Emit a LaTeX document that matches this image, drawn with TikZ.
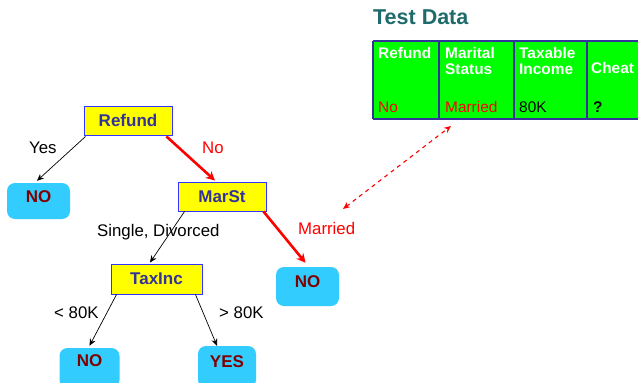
\documentclass[tikz,border=0pt]{standalone}
\usepackage{fontspec}
\setmainfont{Liberation Sans}
\usetikzlibrary{calc,arrows.meta}
\definecolor{boxyellow}{HTML}{FFFF00}
\definecolor{boxborder}{HTML}{3333FF}
\definecolor{boxtext}{HTML}{333399}
\definecolor{leafblue}{HTML}{33CCFF}
\definecolor{leaftext}{HTML}{800000}
\definecolor{tablegreen}{HTML}{00FF00}
\definecolor{tableline}{HTML}{333399}
\definecolor{titleteal}{HTML}{1F6B6B}
\definecolor{pred}{HTML}{FF0000}
\tikzset{
  attr/.style={draw=boxborder, fill=boxyellow, line width=0.9pt, inner sep=0pt,
    minimum width=88pt, minimum height=29pt, text=boxtext,
    font=\fontsize{17}{19}\selectfont\bfseries},
  leaf/.style={fill=leafblue, rounded corners=8pt, inner sep=0pt, text=leaftext,
    font=\fontsize{17}{19}\selectfont\bfseries},
  lbl/.style={anchor=base west, inner sep=0pt, font=\fontsize{16.8}{19}\selectfont},
  redlbl/.style={lbl, text=pred},
  thin arrow/.style={draw=black, line width=0.7pt, -{Stealth[length=7pt,width=6pt]}},
  red arrow/.style={draw=pred, line width=2.6pt, -{Stealth[length=9pt,width=9pt]}},
  thead/.style={anchor=base west, inner sep=0pt, text=white,
    font=\fontsize{15.4}{16}\selectfont\bfseries, align=left},
  tcell/.style={anchor=base west, inner sep=0pt, font=\fontsize{15.4}{16}\selectfont},
}
\begin{document}
\begin{tikzpicture}[x=1pt,y=-1pt]
\clip (0,0) rectangle (638,383);
\fill[white] (0,0) rectangle (638,383);

% title
\node[anchor=base west, inner sep=0pt, text=titleteal,
  font=\fontsize{21.5}{24}\selectfont\bfseries] (title) at (373,24) {Test Data};

% table
\fill[tablegreen] (373,41) rectangle (645,119);
\draw[tableline, line width=1.2pt] (373,41) -- (645,41);
\draw[tableline, line width=1.2pt] (373,119) -- (645,119);
\foreach \x in {373,439,514,587} \draw[tableline, line width=1.2pt] (\x,41) -- (\x,119);
\node[thead] (h1) at (378,58) {Refund};
\node[thead, anchor=north west] (h2) at (445,47.5) {Marital\\Status};
\node[thead, anchor=north west] (h3) at (519,47.5) {Taxable\\Income};
\node[thead] (h4) at (591,73) {Cheat};
\node[tcell, text=pred] (d1) at (378,112) {No};
\node[tcell, text=pred] (d2) at (445,112) {Married};
\node[tcell] (d3) at (519,112) {80K};
\node[tcell, font=\fontsize{15.4}{16}\selectfont\bfseries] (d4) at (593,112) {?};

% tree nodes
\node[attr] (refund) at (128,120.5) {Refund};
\node[attr] (marst) at (222,196.5) {MarSt};
\node[attr, minimum width=91pt, minimum height=30pt] (taxinc) at (156.5,279) {TaxInc};
\node[leaf, minimum width=63pt, text height=19pt, text depth=17pt] (noL) at (38.5,201) {NO};
\node[leaf, minimum width=63pt, text height=20pt, text depth=19pt] (noR) at (307.5,286.5) {NO};
\node[leaf, minimum width=60pt, text height=18pt, text depth=22pt] (noB) at (89.5,368) {NO};
\node[leaf, minimum width=58pt, text height=21pt, text depth=21pt] (yes) at (227,367) {YES};

% edges
\draw[thin arrow] ($(refund.south west)+(2,1)$) -- ($(noL.north)+(-1.5,-2)$);
\draw[red arrow] ($(refund.south east)+(-6,1)$) -- ($(marst.north)+(-7,-1)$);
\draw[thin arrow] ($(marst.south west)+(7,0)$) -- ($(taxinc.north)+(-6.5,-1)$);
\draw[red arrow] ($(marst.south east)+(-3,0)$) -- ($(noR.north)+(-2,-4)$);
\draw[thin arrow] ($(taxinc.south west)+(6,0)$) -- ($(noB.north)+(0,-2)$);
\draw[thin arrow] ($(taxinc.south east)+(-7,0)$) -- ($(yes.north)+(-10,0)$);

% edge labels
\node[lbl] (lyes) at (29,153) {Yes};
\node[redlbl] (lno) at (202,153) {No};
\node[lbl] (lsd) at (97,236) {Single, Divorced};
\node[redlbl] (lmar) at (298,234) {Married};
\node[lbl] (llt) at (54,318) {< 80K};
\node[lbl] (lgt) at (219,318) {> 80K};

% dashed link
\coordinate (tabpt) at (451,126);
\coordinate (marpt) at (343,209);
\draw[draw=pred, line width=1.1pt, dash pattern=on 4pt off 4pt,
  {Stealth[length=7pt,width=6pt]}-{Stealth[length=7pt,width=6pt]}] (marpt) -- (tabpt);
\end{tikzpicture}
\end{document}
